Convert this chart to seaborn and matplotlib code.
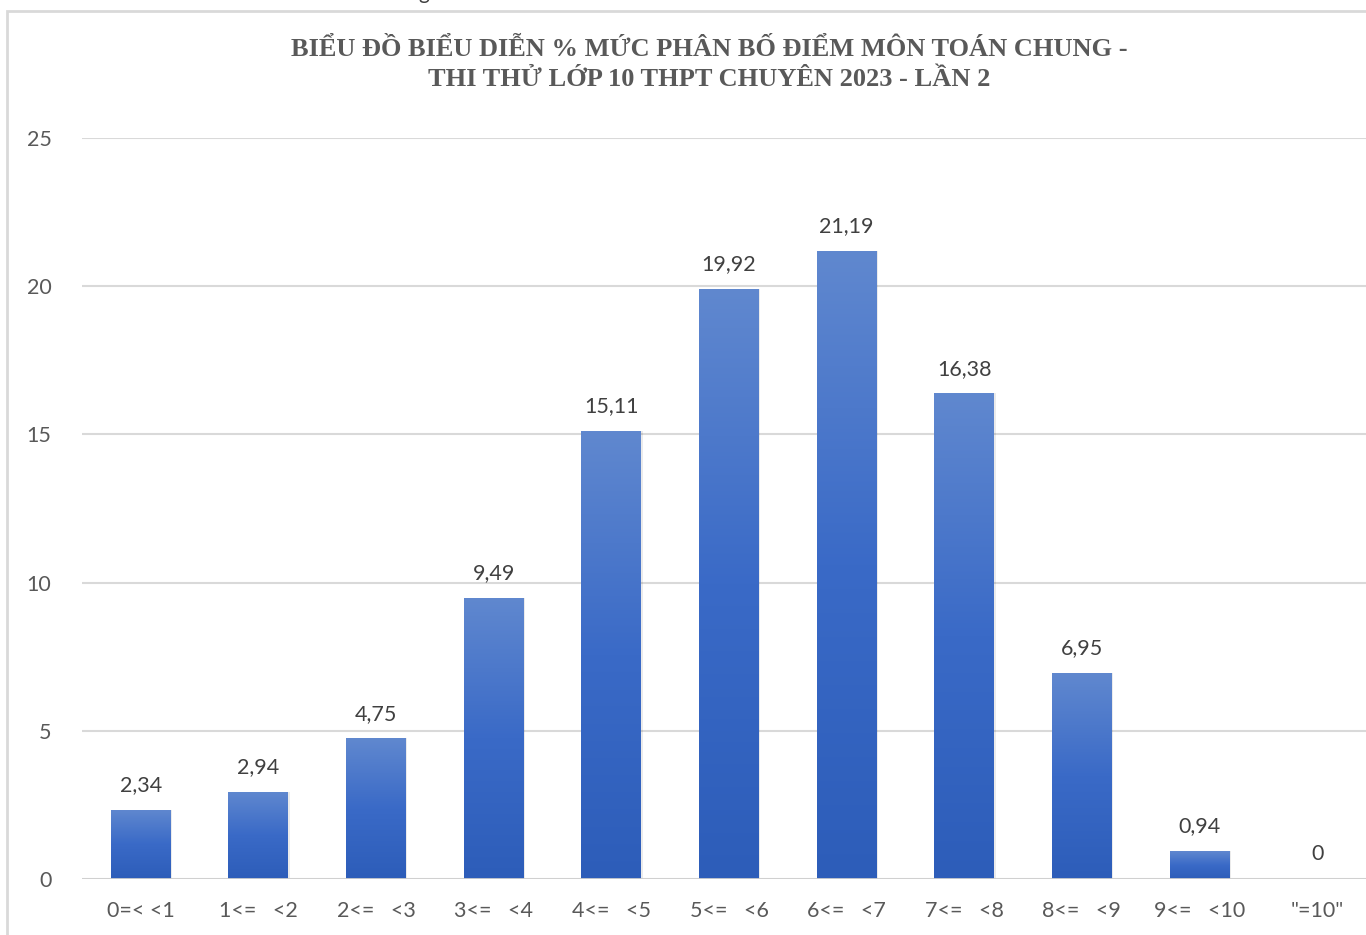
import numpy as np
import pandas as pd
import matplotlib
matplotlib.use("Agg")
import matplotlib.pyplot as plt
import seaborn as sns
from matplotlib.colors import LinearSegmentedColormap
from matplotlib.patches import Rectangle

# ==========================================
# Dữ liệu
# ==========================================
categories = ["0=< <1", "1<=   <2", "2<=   <3", "3<=   <4", "4<=   <5",
              "5<=   <6", "6<=   <7", "7<=   <8", "8<=   <9", "9<=   <10", "\"=10\""]
percents = [2.34, 2.94, 4.75, 9.49, 15.11, 19.92, 21.19, 16.38, 6.95, 0.94, 0]
y_ticks = [0, 5, 10, 15, 20, 25]
title_lines = ["BIỂU ĐỒ BIỂU DIỄN % MỨC PHÂN BỐ ĐIỂM MÔN TOÁN CHUNG -",
               "THI THỬ LỚP 10 THPT CHUYÊN 2023 - LẦN 2"]

df = pd.DataFrame({"muc": categories, "pct": percents})

sns.set_theme(style="white")
plt.rcParams["font.family"] = ["Lato", "DejaVu Sans"]

W, H = 1366, 935
fig = plt.figure(figsize=(W / 100, H / 100), dpi=100)

# khung viền ngoài (bị cắt ở mép phải/dưới)
fig.patches.append(Rectangle((7 / W, -0.01), 1.0, (H - 11) / H + 0.01,
                             transform=fig.transFigure, fill=False,
                             edgecolor="#d9d9d9", linewidth=2, zorder=0))
# mẩu chữ bị cắt ở phía trên (có trong ảnh gốc)
fig.text(418 / W, 1 - 3 / H, "g", fontsize=15, color="#404040",
         ha="left", va="bottom")

ax = fig.add_axes([82 / W, 56 / H, (1376 - 82) / W, 741 / H])
ax.set_facecolor("none")

sns.barplot(data=df, x="muc", y="pct", ax=ax, color="#3a68c4", width=0.51,
            saturation=1, edgecolor="none", zorder=3)

# tô gradient cho từng cột
cmap = LinearSegmentedColormap.from_list("grad", ["#2d5db9", "#3a6ac7", "#6088cf"])
grad = np.linspace(0, 1, 256).reshape(-1, 1)
for p in ax.patches:
    x0, y0 = p.get_x(), p.get_y()
    w, h = p.get_width(), p.get_height()
    if h <= 0:
        continue
    p.set_alpha(0)
    im = ax.imshow(grad, cmap=cmap, aspect="auto", origin="lower",
                   extent=[x0, x0 + w, y0, y0 + h], zorder=3)
    im.set_clip_path(Rectangle((x0, y0), w, h, transform=ax.transData))
    # bóng mờ nhẹ bên phải
    ax.add_patch(Rectangle((x0 + w, y0), 0.012, h, color="#000000",
                           alpha=0.08, linewidth=0, zorder=2))

ax.set_xlim(-0.5, len(categories) - 0.5)
ax.set_ylim(0, 25)
ax.set_yticks(y_ticks)
ax.yaxis.grid(True, color="#d9d9d9", linewidth=1.5, zorder=0)
ax.set_axisbelow(True)
ax.axhline(0, color="#cfcfcf", linewidth=2, zorder=4)
for s in ax.spines.values():
    s.set_visible(False)

ax.tick_params(axis="y", length=0, pad=22, labelsize=15.5, labelcolor="#595959")
ax.tick_params(axis="x", length=0, pad=16, labelsize=15.5, labelcolor="#595959")
ax.set_xlabel("")
ax.set_ylabel("")

# nhãn giá trị
for i, v in enumerate(percents):
    txt = "0" if v == 0 else f"{v:.2f}".replace(".", ",")
    ax.annotate(txt, (i, v), xytext=(0, 10.5), textcoords="offset points",
                ha="center", va="bottom", fontsize=15.5, color="#404040")

# tiêu đề
for k, line in enumerate(title_lines):
    fig.text(709 / W, 1 - (49 + 31 * k) / H, line, ha="center", va="center",
             fontsize=19, fontweight="bold", color="#595959",
             family=["Liberation Serif", "DejaVu Serif"])

fig.savefig("out.png", dpi=100)
